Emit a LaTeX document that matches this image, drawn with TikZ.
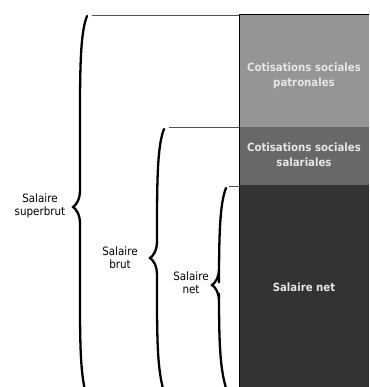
\documentclass[tikz,border=0pt]{standalone}
\usepackage{fontspec}
\setmainfont{DejaVu Sans Condensed}
\definecolor{cpat}{HTML}{959595}
\definecolor{csal}{HTML}{686868}
\definecolor{cnet}{HTML}{333333}
\definecolor{ctxt}{HTML}{E6E6E6}
\definecolor{cline}{HTML}{505050}
\newcommand{\salbrace}[4]{% xv, ytop, ytip, ybot
  \draw[bracestroke] ({#1+7},{#2}) .. controls ({#1+1},{#2+15}) and ({#1},{#2+45}) .. ({#1},{#2+95})
    -- ({#1},{#3-17}) .. controls ({#1},{#3-7}) and ({#1-4},{#3-2}) .. ({#1-7},{#3})
    .. controls ({#1-4},{#3+2}) and ({#1},{#3+7}) .. ({#1},{#3+17})
    -- ({#1},{#4-95}) .. controls ({#1},{#4-45}) and ({#1+1},{#4-20}) .. ({#1+7},{#4});}
\begin{document}
\begin{tikzpicture}[x=1pt,y=-1pt,
  block/.style={draw=none,minimum width=130pt,inner sep=0pt,outer sep=0pt,
    text=ctxt,font=\fontsize{11.3}{15}\selectfont\bfseries,align=center},
  lbl/.style={font=\fontsize{11.5}{12.8}\selectfont,align=center,text=black},
  bracestroke/.style={line width=2.3pt,line cap=round,black},
  tick/.style={draw=cline,line width=0.8pt}]
\useasboundingbox (0,0) rectangle (369,387);
\begin{scope}
\clip (0,0) rectangle (369,387);
\node[block,fill=cpat,minimum height=112pt] (pat) at (304,71) {};
\node[block] (patt) at (304,75.5) {Cotisations sociales\\patronales};
\node[block,fill=csal,minimum height=58pt] (sal) at (304,156) {};
\node[block] (salt) at (304,155) {Cotisations sociales\\salariales};
\node[block,fill=cnet,minimum height=210pt] (net) at (304,290) {};
\node[block] (nett) at (304,287) {Salaire net};
\draw[black,line width=1pt] (pat.south west) -- (pat.north west) -- (pat.north east);
\draw[black,line width=1pt] (net.south west) -- (net.north west);
\draw[black,line width=1pt] (sal.south west) -- (sal.north west);
\coordinate (t1) at (92,15);
\coordinate (t2) at (169,127.5);
\coordinate (t3) at (229,186);
\draw[tick] (t1) -- (t1 -| pat.west);
\draw[tick] (t2) -- (t2 -| sal.west);
\draw[tick] (t3) -- (t3 -| net.west);
\salbrace{80}{16}{207}{398}
\salbrace{157}{129}{258}{392}
\salbrace{219}{188}{285}{388}
\end{scope}
\node[lbl] (sup) at (40,206) {Salaire\\superbrut};
\node[lbl] (brut) at (120,258) {Salaire\\brut};
\node[lbl] (snet) at (191,283) {Salaire\\net};
\end{tikzpicture}
\end{document}
